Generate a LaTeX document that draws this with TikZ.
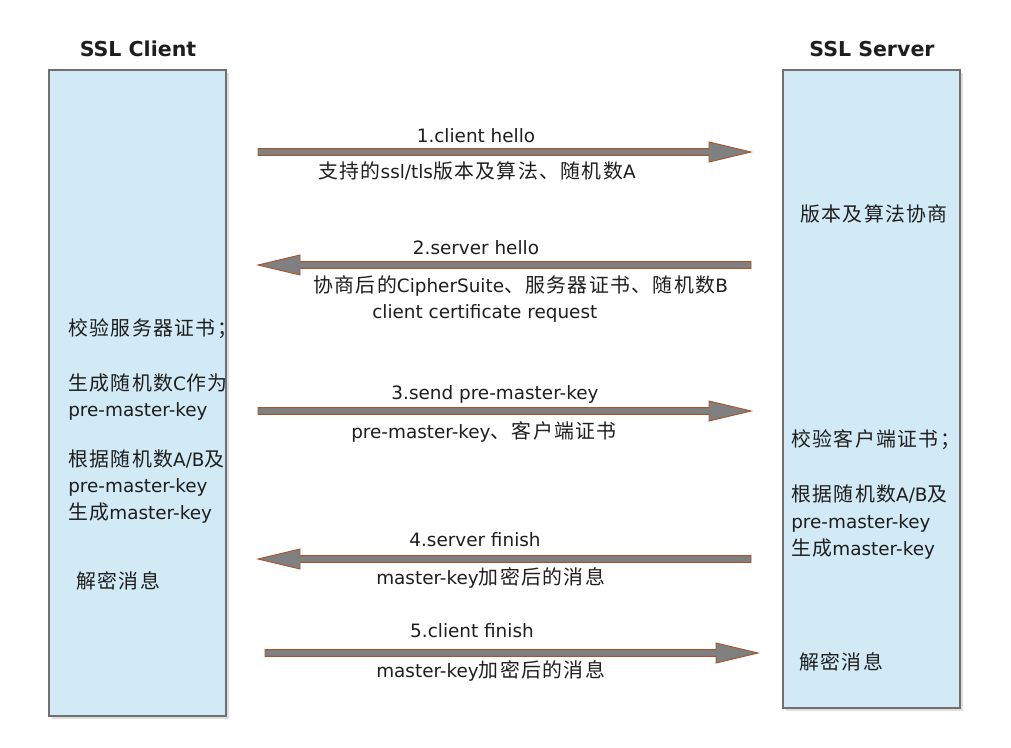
\documentclass[tikz,border=0pt]{standalone}
\usepackage{fontspec}
\setmainfont{DejaVu Sans}
\newfontfamily\cjk[Scale=1.08,LetterSpace=7]{Noto Sans CJK SC}
\newcommand\zh[1]{{\cjk #1}}
\usetikzlibrary{calc}
\definecolor{boxfill}{RGB}{209,234,245}
\definecolor{boxline}{RGB}{112,112,112}
\definecolor{shadowc}{RGB}{222,222,222}
\definecolor{arrfill}{RGB}{128,128,128}
\definecolor{arrline}{RGB}{165,85,45}
\definecolor{textc}{RGB}{30,30,30}
\tikzset{
  lane/.style={draw=boxline, fill=boxfill, line width=0.8pt},
  laneshadow/.style={fill=shadowc, draw=none},
  blockarrowstyle/.style={fill=arrfill, draw=arrline, line width=0.7pt, line join=miter},
  txt/.style={inner sep=0pt, text=textc, font=\fontsize{13.8}{16}\selectfont},
  title/.style={inner sep=0pt, text=textc, font=\fontsize{15.4}{18}\selectfont\bfseries},
}
\newcommand\blockarrow[2]{%
  \coordinate (ba-h) at ($(#2)!31.5pt!(#1)$);
  \filldraw[blockarrowstyle]
    ($(#1)!2.5pt!90:(#2)$) -- ($(ba-h)!2.5pt!90:(#2)$) -- ($(ba-h)!7.5pt!90:(#2)$) --
    (#2) --
    ($(ba-h)!7.5pt!-90:(#2)$) -- ($(ba-h)!2.5pt!-90:(#2)$) -- ($(#1)!2.5pt!-90:(#2)$) -- cycle;
}
\begin{document}
\begin{tikzpicture}[x=0.75pt,y=-0.75pt]
\useasboundingbox[fill=white] (0,0) rectangle (1011,747);

% lanes
\fill[laneshadow] (52,73) rectangle (229,719);
\fill[laneshadow] (786,73) rectangle (963,711);
\draw[lane] (49,70) rectangle (226,716);
\draw[lane] (783,70) rectangle (960,708);
\coordinate (clientlane) at (49,70);
\coordinate (serverlane) at (783,70);

% titles
\node[title, anchor=base] (tclient) at (138,56) {SSL Client};
\node[title, anchor=base] (tserver) at (872,56) {SSL Server};

% arrow end points
\coordinate (a1s) at (258,152); \coordinate (a1e) at (751,152);
\coordinate (a2s) at (751,265); \coordinate (a2e) at (258,265);
\coordinate (a3s) at (258,411); \coordinate (a3e) at (751,411);
\coordinate (a4s) at (751,559); \coordinate (a4e) at (258,559);
\coordinate (a5s) at (265,653); \coordinate (a5e) at (758,653);

\blockarrow{a1s}{a1e}
\blockarrow{a2s}{a2e}
\blockarrow{a3s}{a3e}
\blockarrow{a4s}{a4e}
\blockarrow{a5s}{a5e}

% arrow labels
\node[txt, anchor=base] (l1) at (476,142) {1.client hello};
\node[txt, anchor=base west] (l1b) at (318,178) {\zh{支持的}ssl/tls\zh{版本及算法、随机数}A};
\node[txt, anchor=base] (l2) at (476,254) {2.server hello};
\node[txt, anchor=base west] (l2b) at (313,292) {\zh{协商后的}CipherSuite\zh{、服务器证书、随机数}B};
\node[txt, anchor=base west] (l2c) at (372,318) {client certificate request};
\node[txt, anchor=base] (l3) at (495,399) {3.send pre-master-key};
\node[txt, anchor=base west] (l3b) at (351,438) {pre-master-key\zh{、客户端证书}};
\node[txt, anchor=base] (l4) at (475,546) {4.server finish};
\node[txt, anchor=base west] (l4b) at (376,584) {master-key\zh{加密后的消息}};
\node[txt, anchor=base] (l5) at (472,637) {5.client finish};
\node[txt, anchor=base west] (l5b) at (376,677) {master-key\zh{加密后的消息}};

% client notes
\node[txt, anchor=base west] (c1) at (68,335) {\zh{校验服务器证书；}};
\node[txt, anchor=base west] (c2) at (68,390) {\zh{生成随机数}C\zh{作为}};
\node[txt, anchor=base west] (c3) at (68,416) {pre-master-key};
\node[txt, anchor=base west] (c4) at (68,466) {\zh{根据随机数}A/B\zh{及}};
\node[txt, anchor=base west] (c5) at (68,492.5) {pre-master-key};
\node[txt, anchor=base west] (c6) at (68,519) {\zh{生成}master-key};
\node[txt, anchor=base west] (c7) at (76,588) {\zh{解密消息}};

% server notes
\node[txt, anchor=base west] (s0) at (800,221) {\zh{版本及算法协商}};
\node[txt, anchor=base west] (s1) at (791,446) {\zh{校验客户端证书；}};
\node[txt, anchor=base west] (s2) at (791,501) {\zh{根据随机数}A/B\zh{及}};
\node[txt, anchor=base west] (s3) at (791,528) {pre-master-key};
\node[txt, anchor=base west] (s4) at (791,555) {\zh{生成}master-key};
\node[txt, anchor=base west] (s5) at (799,669) {\zh{解密消息}};
\end{tikzpicture}
\end{document}
